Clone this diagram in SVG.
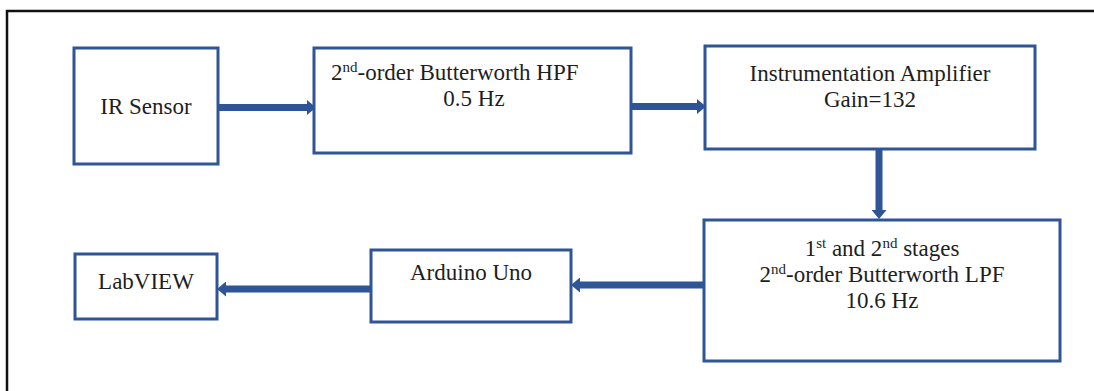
<svg xmlns="http://www.w3.org/2000/svg" width="1094" height="391" viewBox="0 0 1094 391">
<style>
.frame{fill:none;stroke:#111;stroke-width:2.5}
.box{fill:#fff;stroke:#2F5597;stroke-width:3}
.t{font-family:'Liberation Serif','DejaVu Serif','Times New Roman',serif;font-size:23px;fill:#1e1e1e}
.sup{font-size:15px}
.arr{stroke:#2F5597;stroke-width:7;fill:none}
</style>
<defs>
<marker id="ah" markerUnits="userSpaceOnUse" markerWidth="9" markerHeight="15" refX="0" refY="7.5" orient="auto" viewBox="0 0 9 15">
<path d="M0,0 L9,7.5 L0,15 z" fill="#2F5597"/>
</marker>
</defs>
<rect width="1094" height="391" fill="#fff"/>
<path class="frame" d="M7,391 V11 H1094"/>
<g id="connectors">
<line class="arr" x1="218" y1="107.5" x2="307" y2="107.5" marker-end="url(#ah)"/>
<line class="arr" x1="631" y1="106.5" x2="697" y2="106.5" marker-end="url(#ah)"/>
<line class="arr" x1="879" y1="149" x2="879" y2="210" marker-end="url(#ah)"/>
<line class="arr" x1="704" y1="285" x2="580" y2="285" marker-end="url(#ah)"/>
<line class="arr" x1="371" y1="289" x2="226" y2="289" marker-end="url(#ah)"/>
</g>
<g id="ir-sensor">
<rect class="box" x="74" y="48" width="144" height="116"/>
<text class="t" x="146" y="114" text-anchor="middle">IR Sensor</text>
</g>
<g id="hpf">
<rect class="box" x="314" y="48" width="317" height="105"/>
<text class="t" x="331" y="80">2<tspan class="sup" dy="-8">nd</tspan><tspan dy="8">-order Butterworth HPF</tspan></text>
<text class="t" x="474" y="106" text-anchor="middle">0.5 Hz</text>
</g>
<g id="amplifier">
<rect class="box" x="705" y="46" width="330" height="103"/>
<text class="t" x="870" y="81" text-anchor="middle">Instrumentation Amplifier</text>
<text class="t" x="870" y="107" text-anchor="middle">Gain=132</text>
</g>
<g id="lpf">
<rect class="box" x="704" y="220" width="356" height="141"/>
<text class="t" x="882" y="256" text-anchor="middle">1<tspan class="sup" dy="-8">st</tspan><tspan dy="8"> and 2</tspan><tspan class="sup" dy="-8">nd</tspan><tspan dy="8"> stages</tspan></text>
<text class="t" x="882" y="282" text-anchor="middle">2<tspan class="sup" dy="-8">nd</tspan><tspan dy="8">-order Butterworth LPF</tspan></text>
<text class="t" x="882" y="308" text-anchor="middle">10.6 Hz</text>
</g>
<g id="arduino">
<rect class="box" x="371" y="250" width="200" height="72"/>
<text class="t" x="471" y="280" text-anchor="middle">Arduino Uno</text>
</g>
<g id="labview">
<rect class="box" x="75" y="254" width="142" height="65"/>
<text class="t" x="146" y="289" text-anchor="middle">LabVIEW</text>
</g>
</svg>
